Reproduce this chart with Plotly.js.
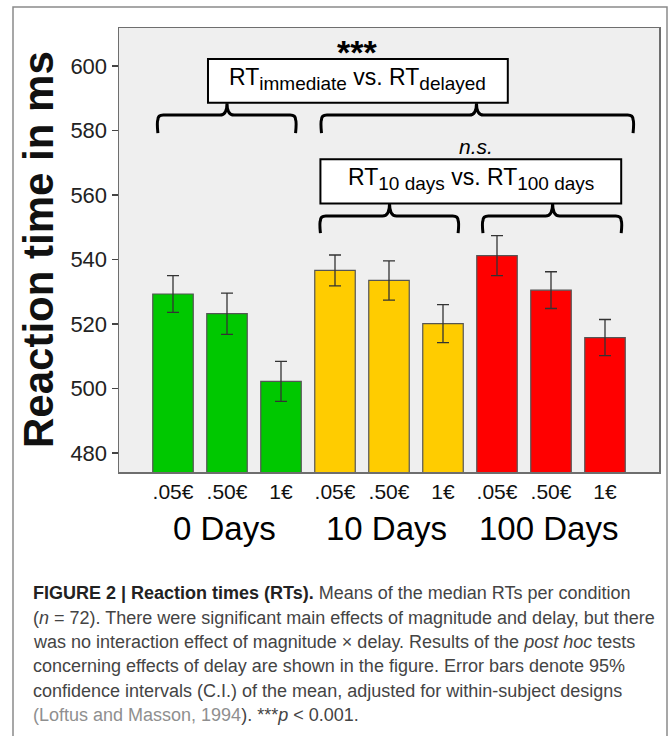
<!DOCTYPE html>
<html>
<head>
<meta charset="utf-8">
<script src="https://cdn.plot.ly/plotly-3.0.1.min.js"></script>
<style>html,body{margin:0;padding:0;background:#fff;}#chart{width:671px;height:736px;}</style>
</head>
<body>
<div id="chart"></div>
<script>
// ---- data ----
const delays = ['0 Days', '10 Days', '100 Days'];
const magnitudes = ['.05€', '.50€', '1€'];
const rt0 = [529.3, 523.2, 502.2];
const rt10 = [536.6, 533.5, 520.1];
const rt100 = [541.2, 530.5, 515.8];
const ci0 = [5.7, 6.4, 6.2];
const ci10 = [4.8, 6.1, 5.9];
const ci100 = [6.2, 5.7, 5.6];
const yTicks = [480, 500, 520, 540, 560, 580, 600];

const series = [rt0, rt10, rt100];
const cis = [ci0, ci10, ci100];
const colors = ['#00C800', '#FFCC00', '#FF0000'];

const traces = series.map((vals, g) => ({
  type: 'bar',
  x: vals.map((v, i) => g * magnitudes.length + i),
  y: vals,
  width: 0.75,
  marker: {color: colors[g], line: {color: '#555', width: 1.2}},
  error_y: {type: 'data', array: cis[g], visible: true, color: '#333', thickness: 1.3, width: 6},
  hoverinfo: 'none',
  showlegend: false
}));

const xTickVals = [];
const xTickText = [];
delays.forEach((d, g) => magnitudes.forEach((m, i) => { xTickVals.push(g * magnitudes.length + i); xTickText.push(m); }));

// layout helpers (pixel -> paper)
const L = 119, R = 659, T = 28, B = 472, W = 671, H = 736;
const px = x => (x - L) / (R - L);
const py = y => (B - y) / (B - T);

// brackets (in data units)
const brackets = [
  {x1: -0.28, x2: 2.27, xm: 1.0, yH: 584.8, yEnd: 579.2, yPeak: 588.5},
  {x1: 2.75, x2: 8.52, xm: 5.62, yH: 584.8, yEnd: 579.2, yPeak: 588.5},
  {x1: 2.73, x2: 5.28, xm: 4.01, yH: 553.5, yEnd: 548.2, yPeak: 557.4},
  {x1: 5.74, x2: 8.30, xm: 7.03, yH: 553.5, yEnd: 548.2, yPeak: 557.4}
];
function bracketPath(b) {
  const r = 0.1, c = 0.13, dv = 1.4;
  return `M ${b.x1},${b.yEnd} Q ${b.x1 - 0.02},${b.yH - dv * 1.5} ${b.x1},${b.yH - dv} Q ${b.x1},${b.yH} ${b.x1 + r},${b.yH} ` +
    `L ${b.xm - c},${b.yH} Q ${b.xm},${b.yH} ${b.xm},${b.yPeak} Q ${b.xm},${b.yH} ${b.xm + c},${b.yH} ` +
    `L ${b.x2 - r},${b.yH} Q ${b.x2},${b.yH} ${b.x2},${b.yH - dv} Q ${b.x2 + 0.02},${b.yH - dv * 1.5} ${b.x2},${b.yEnd}`;
}
const shapes = brackets.map(b => ({
  type: 'path', xref: 'x', yref: 'y', path: bracketPath(b),
  line: {color: '#000', width: 3}
}));
// text boxes
const boxes = [
  {x0: 0.648, x1: 6.2, y0: 588.6, y1: 602.2},
  {x0: 2.73, x1: 8.30, y0: 557.4, y1: 571.1}
];
boxes.forEach(b => shapes.push({type: 'rect', xref: 'x', yref: 'y', x0: b.x0, x1: b.x1, y0: b.y0, y1: b.y1,
  fillcolor: '#fff', line: {color: '#000', width: 2}}));
// outer frame
shapes.push({type: 'rect', xref: 'paper', yref: 'paper', x0: px(13), x1: px(667), y0: py(7), y1: py(745),
  line: {color: '#8a8a8a', width: 1.5}, fillcolor: 'rgba(0,0,0,0)'});

const FAM = 'Liberation Sans, Arial, sans-serif';
const subStyle = "font-size:19px";
const annotations = [
  {xref: 'x', yref: 'y', x: (boxes[0].x0 + boxes[0].x1) / 2, y: (boxes[0].y0 + boxes[0].y1) / 2 + 0.6,
   xanchor: 'center', yanchor: 'middle',
   text: `RT<sub><span style="${subStyle}">immediate</span></sub> vs. RT<sub><span style="${subStyle}">delayed</span></sub>`,
   showarrow: false, font: {size: 23, color: '#000', family: FAM}},
  {xref: 'x', yref: 'y', x: (boxes[1].x0 + boxes[1].x1) / 2, y: (boxes[1].y0 + boxes[1].y1) / 2 + 0.6,
   xanchor: 'center', yanchor: 'middle',
   text: `RT<sub><span style="${subStyle}">10 days</span></sub> vs. RT<sub><span style="${subStyle}">100 days</span></sub>`,
   showarrow: false, font: {size: 23, color: '#000', family: FAM}},
  {xref: 'x', yref: 'y', x: 3.41, y: 605.4, text: '<b>***</b>', showarrow: false, xanchor: 'center', yanchor: 'middle', yshift: -3,
   font: {size: 34, color: '#000', family: FAM}},
  {xref: 'x', yref: 'y', x: 5.62, y: 574.9, text: '<i>n.s.</i>', showarrow: false, xanchor: 'center', yanchor: 'middle',
   font: {size: 21, color: '#000', family: FAM}},
  {xref: 'paper', yref: 'paper', x: px(38), y: py(250), text: '<b>Reaction time in ms</b>', textangle: -90,
   xanchor: 'center', yanchor: 'middle',
   showarrow: false, font: {size: 42, color: '#111', family: FAM}}
];
delays.forEach((d, g) => annotations.push({
  xref: 'x', yref: 'paper', x: g * magnitudes.length + 1 - 0.05, y: py(528), text: d, showarrow: false,
  xanchor: 'center', yanchor: 'middle',
  font: {size: 33, color: '#000', family: FAM}
}));

const caption = [
  '<span style="color:#222"><b>FIGURE 2 | Reaction times (RTs).</b></span> Means of the median RTs per condition',
  '(<i>n</i> = 72). There were significant main effects of magnitude and delay, but there',
  'was no interaction effect of magnitude × delay. Results of the <i>post hoc</i> tests',
  'concerning effects of delay are shown in the figure. Error bars denote 95%',
  'confidence intervals (C.I.) of the mean, adjusted for within-subject designs',
  '<span style="color:#8f8f8f">(Loftus and Masson, 1994</span>). ***<i>p</i> < 0.001.'
];
caption.forEach((t, i) => annotations.push({
  xref: 'paper', yref: 'paper', x: px(31), y: py(593.3 + i * 24.3), xanchor: 'left', yanchor: 'middle',
  text: t, showarrow: false, align: 'left',
  font: {size: 18, color: '#444', family: FAM}
}));

const layout = {
  width: W, height: H,
  margin: {l: L, r: W - R, t: T, b: H - B, pad: 0},
  paper_bgcolor: '#fff', plot_bgcolor: '#efefef',
  barmode: 'overlay',
  font: {family: FAM, color: '#222'},
  xaxis: {range: [-1, 9], tickvals: xTickVals, ticktext: xTickText, ticks: '', showgrid: false, zeroline: false,
    showline: true, mirror: true, linecolor: '#6e6e6e', linewidth: 1.5, tickfont: {size: 21, color: '#111'},
    fixedrange: true},
  yaxis: {range: [474.1, 611.8], tickvals: yTicks, ticks: 'outside', ticklen: 6, tickwidth: 1.2, tickcolor: '#444',
    showgrid: false, zeroline: false, showline: true, mirror: true, linecolor: '#6e6e6e', linewidth: 1.5,
    tickfont: {size: 22, color: '#222'}, fixedrange: true},
  shapes: shapes,
  annotations: annotations
};

Plotly.newPlot('chart', traces, layout, {displayModeBar: false, staticPlot: true});
</script>
</body>
</html>
